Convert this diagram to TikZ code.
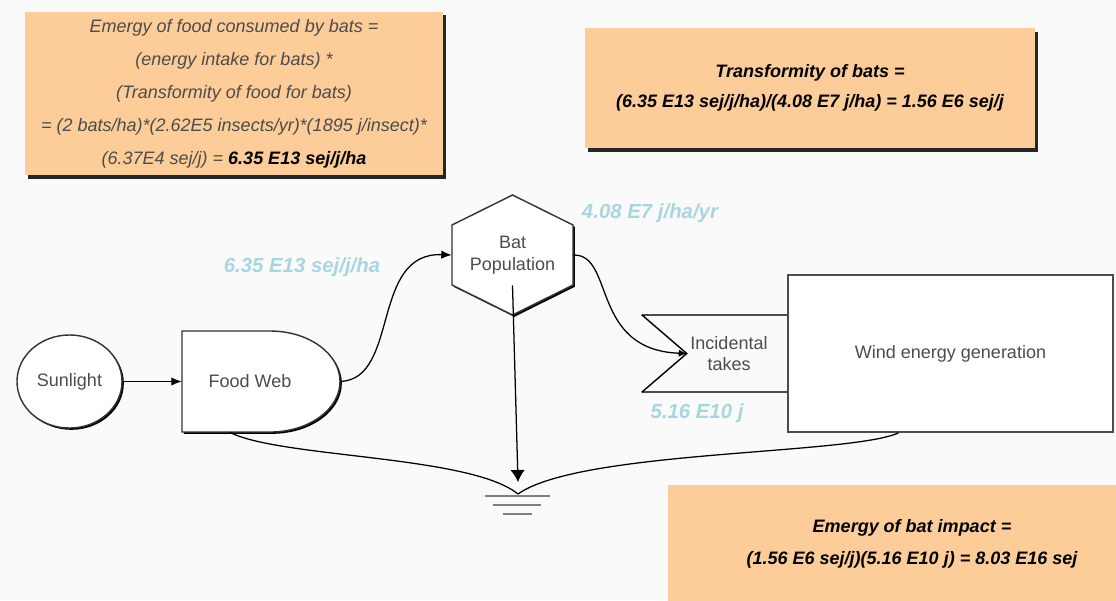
\documentclass[tikz,border=0pt]{standalone}
\usepackage{fontspec}
\setmainfont{Liberation Sans}
\usetikzlibrary{positioning,shapes.geometric,shadows,arrows.meta}
\definecolor{notefill}{RGB}{252,204,153}
\definecolor{flowblue}{RGB}{168,214,224}
\definecolor{bggray}{RGB}{250,250,250}
\tikzset{sym/.style={draw=black!80,line width=1pt,fill=white,
           drop shadow={opacity=1,fill=black,shadow xshift=1.3pt,shadow yshift=-1.3pt}},
	 txt/.style={text=black!70,font=\fontsize{12.8}{15.5}\selectfont,align=center,inner sep=0pt},
	 note/.style={fill=notefill,align=center,inner sep=0pt,text=black!70,
           font=\fontsize{12.8}{23.5}\selectfont\itshape,
           drop shadow={opacity=1,fill=black!85,shadow xshift=2.2pt,shadow yshift=-2.5pt}},
	 notebold/.style={note,text=black,font=\fontsize{12.8}{21.5}\selectfont\bfseries\itshape},
	 rate/.style={text=flowblue,font=\fontsize{14.5}{17}\selectfont\bfseries\itshape},
	 flow/.style={draw,line width=0.9pt,-{Latex[length=2.6mm,width=2.1mm]}},
	 sink/.style={draw,line width=0.9pt},
	 gline/.style={draw=black!50,line width=1.4pt},
	 node distance = 1
	 }

\begin{document}
\begin{tikzpicture}[x=0.025cm,y=-0.025cm] % bat emergy
        \useasboundingbox (0,0) rectangle (1116,600);
        \fill[bggray] (0,0) rectangle (1116,600);
        % notes
        \node[note,minimum width=10.45cm,minimum height=4.075cm] (foodnote) at (234,93.5)
          {Emergy of food consumed by bats =\\(energy intake for bats) *\\(Transformity of food for bats)\\= (2 bats/ha)*(2.62E5 insects/yr)*(1895 j/insect)*\\(6.37E4 sej/j) = \textbf{\color{black}6.35 E13 sej/j/ha}};
        \node[notebold,minimum width=11.25cm,minimum height=3cm] (transnote) at (810,88)
          {Transformity of bats =\\(6.35 E13 sej/j/ha)/(4.08 E7 j/ha) = 1.56 E6 sej/j};
        \node[notebold,font=\fontsize{12.8}{22.8}\selectfont\bfseries\itshape,minimum width=12.2cm,minimum height=2.95cm] (impactnote) at (912,544)
          {Emergy of bat impact =\\(1.56 E6 sej/j)(5.16 E10 j) = 8.03 E16 sej};
        % symbols
        \node[sym,txt,ellipse,minimum width=2.625cm,minimum height=2.325cm] (sun) at (69.5,381.5) {Sunlight};
        \draw[sym] (182,331) -- (270,331) arc[start angle=90,end angle=-90,x radius=1.75cm,y radius=1.2625cm] -- (182,432) -- cycle;
        \node[txt,minimum width=3.4cm,minimum height=2.525cm] (food) at (250,381.5) {Food Web};
        \draw[sym] (452,225) -- (512.5,195) -- (573,225) -- (573,285) -- (512.5,315) -- (452,285) -- cycle;
        \node[txt,minimum width=3.025cm,minimum height=1.5cm] (bat) at (512.5,255) {Bat\\Population};
        \node[txt,draw=black!70,line width=1.2pt,fill=white,minimum width=8.125cm,minimum height=3.925cm] (wind) at (950.5,353.5) {Wind energy generation};
        \node[txt,minimum width=2.1cm,minimum height=1.925cm] (inc) at (729,353.5) {Incidental\\takes};
        \draw[draw=black!70,line width=1.2pt] (wind.west |- inc.north) -- ([xshift=-1.125cm]inc.north west);
        \draw[draw=black!70,line width=1.2pt] (wind.west |- inc.south) -- ([xshift=-1.125cm]inc.south west);
        \draw[line width=1pt] ([xshift=-1.125cm]inc.north west) -- (inc.west) -- ([xshift=-1.125cm]inc.south west);
        \coordinate (gnd) at (518,494);
        \draw[gline] (gnd) ++(-33,2) -- ++(65,0) (gnd) ++(-25,11) -- ++(48,0) (gnd) ++(-15,20) -- ++(29,0);
        % flows
        \draw[flow] (sun) -- (food.west);
        \draw[flow] ([xshift=0.55cm]food.east) .. controls (400,379) and (370,252) .. (bat.west);
        \draw[flow,-{Latex[length=2mm,width=1.8mm]}] (bat.east) .. controls (615,254) and (590,350) .. (inc.west);
        \draw[flow,-{Latex[length=3mm,width=3.6mm]}] (bat.south) -- ([yshift=0.3cm]gnd);
        \draw[sink] ([xshift=1.2cm]food.south west) .. controls (280,458) and (470,455) .. (gnd);
        \draw[sink] ([xshift=-1.3cm]wind.south) .. controls (850,455) and (580,450) .. (gnd);
        % labels
        \node[rate] (foodrate) at (302,267) {6.35 E13 sej/j/ha};
        \node[rate] (batrate) at (650,213) {4.08 E7 j/ha/yr};
        \node[rate] (takerate) at (697,413) {5.16 E10 j};
\end{tikzpicture}
\end{document}
